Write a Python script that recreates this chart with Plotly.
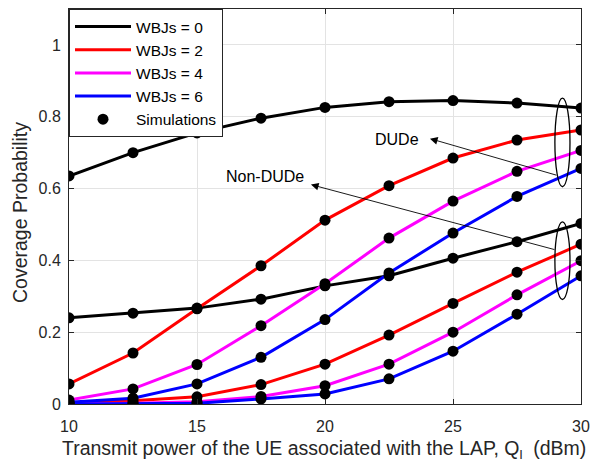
import plotly.graph_objects as go

x = [10, 12.5, 15, 17.5, 20, 22.5, 25, 27.5, 30]

dude_0 = [0.635, 0.700, 0.755, 0.796, 0.826, 0.842, 0.845, 0.838, 0.824]
dude_2 = [0.056, 0.142, 0.265, 0.385, 0.512, 0.608, 0.685, 0.735, 0.763]
dude_4 = [0.011, 0.042, 0.110, 0.218, 0.335, 0.462, 0.565, 0.648, 0.706]
dude_6 = [0.005, 0.016, 0.056, 0.130, 0.235, 0.365, 0.476, 0.578, 0.656]

non_0 = [0.240, 0.253, 0.267, 0.292, 0.329, 0.357, 0.406, 0.452, 0.503]
non_2 = [0.003, 0.009, 0.020, 0.054, 0.111, 0.192, 0.280, 0.367, 0.445]
non_4 = [0.001, 0.002, 0.006, 0.021, 0.051, 0.111, 0.200, 0.304, 0.399]
non_6 = [0.000, 0.001, 0.002, 0.014, 0.028, 0.070, 0.147, 0.250, 0.357]

labels = ["WBJs = 0", "WBJs = 2", "WBJs = 4", "WBJs = 6"]
colors = ["#000000", "#ff0000", "#ff00ff", "#0000ff"]

x_title = "Transmit power of the UE associated with the LAP, Q<sub>l</sub>  (dBm)"
y_title = "Coverage Probability"

W, H = 590, 462
ml, mr, mt, mb = 69, 9, 9, 58
pw, ph = W - ml - mr, H - mt - mb

fig = go.Figure()
for name, col, yd, yn in zip(labels, colors, [dude_0, dude_2, dude_4, dude_6],
                             [non_0, non_2, non_4, non_6]):
    fig.add_trace(go.Scatter(x=x, y=yd, mode="lines", name=name,
                             line=dict(color=col, width=3)))
    fig.add_trace(go.Scatter(x=x, y=yn, mode="lines", showlegend=False,
                             line=dict(color=col, width=3)))

all_series = [dude_0, dude_2, dude_4, dude_6, non_0, non_2, non_4, non_6]
for i, yv in enumerate(all_series):
    fig.add_trace(go.Scatter(x=x, y=yv, mode="markers", name="Simulations",
                             showlegend=(i == 0),
                             marker=dict(symbol="circle", size=11, color="black",
                                         line=dict(width=0))))

# ellipses
fig.add_shape(type="circle", xref="x", yref="y", x0=28.98, x1=29.57, y0=0.605, y1=0.852,
              line=dict(color="black", width=1.3))
fig.add_shape(type="circle", xref="x", yref="y", x0=28.98, x1=29.57, y0=0.291, y1=0.507,
              line=dict(color="black", width=1.3))

# arrows
fig.add_annotation(x=24.10, y=0.739, ax=29.10, ay=0.636, xref="x", yref="y",
                   axref="x", ayref="y", text="", showarrow=True, arrowhead=2,
                   arrowsize=1.7, arrowwidth=0.9, arrowcolor="black")
fig.add_annotation(x=19.45, y=0.611, ax=29.02, ay=0.429, xref="x", yref="y",
                   axref="x", ayref="y", text="", showarrow=True, arrowhead=2,
                   arrowsize=1.7, arrowwidth=0.9, arrowcolor="black")
fig.add_annotation(x=22.81, y=0.737, text="DUDe", showarrow=False,
                   font=dict(size=16, color="black"))
fig.add_annotation(x=17.66, y=0.633, text="Non-DUDe", showarrow=False,
                   font=dict(size=16, color="black"))

# axis titles (placed by pixel position in paper coordinates)
fig.add_annotation(xref="paper", yref="paper", x=(324 - ml) / pw, y=(H - mb - 449) / ph,
                   xanchor="center", yanchor="middle", text=x_title, showarrow=False,
                   font=dict(size=19.5, color="#262626"))
fig.add_annotation(xref="paper", yref="paper", x=(20 - ml) / pw, y=(H - mb - 213) / ph,
                   xanchor="center", yanchor="middle", text=y_title, showarrow=False,
                   textangle=-90, font=dict(size=19.5, color="#262626"))

axis_common = dict(showline=True, linecolor="#262626", linewidth=1, mirror="ticks",
                   ticks="inside", ticklen=5, tickcolor="#262626",
                   showgrid=True, gridcolor="#e3e3e3", gridwidth=1, zeroline=False,
                   automargin=False,
                   tickfont=dict(size=16, color="#262626"))

fig.update_xaxes(range=[10, 30], tickvals=[10, 15, 20, 25, 30],
                 ticklabelstandoff=8, **axis_common)
fig.update_yaxes(range=[0, 1.1], tickvals=[0, 0.2, 0.4, 0.6, 0.8, 1],
                 ticktext=["0", "0.2", "0.4", "0.6", "0.8", "1"],
                 ticklabelstandoff=4, **axis_common)

fig.update_layout(
    width=W, height=H,
    margin=dict(l=ml, r=mr, t=mt, b=mb),
    paper_bgcolor="white", plot_bgcolor="white",
    font=dict(family="Liberation Sans, Arial, sans-serif", color="#262626"),
    legend=dict(x=0, y=1, xanchor="left", yanchor="top",
                bgcolor="white", bordercolor="#262626", borderwidth=1,
                font=dict(size=15.5, color="black"), tracegroupgap=0,
                itemwidth=56),
    showlegend=True,
)

fig.write_html("out.html",
               config={"displayModeBar": False},
               post_script="document.body.style.margin='0';document.body.style.padding='0';")
